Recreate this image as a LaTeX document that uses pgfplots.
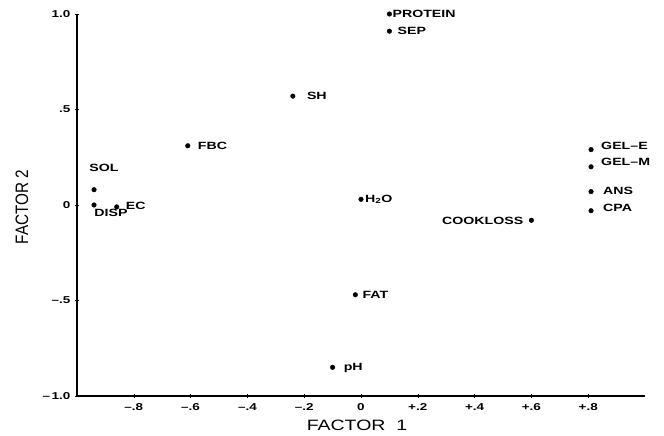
\documentclass[border=0pt]{standalone}
\usepackage{fontspec}
\setmainfont{Liberation Sans}
\usepackage{pgfplots}
\pgfplotsset{compat=1.18}
\newfontfamily\lab{Liberation Sans}[FakeStretch=1.35]
\newfontfamily\axlab{Liberation Sans}[FakeStretch=1.3]
\newfontfamily\aylab{Liberation Sans}[FakeStretch=0.85]

\pgfplotsset{pts/.style={only marks, mark=*, mark size=2.3pt, black,
  nodes near coords style={inner sep=0pt, font=\lab\bfseries\fontsize{10.5}{12}\selectfont, text=black}}}
% x, y, label, anchor, xshift, yshift
\newcommand{\pt}[6]{\addplot[pts, nodes near coords={#3},
  every node near coord/.append style={anchor=#4, xshift=#5pt, yshift=#6pt}] coordinates {(#1,#2)};}

\begin{document}
\begin{tikzpicture}
\useasboundingbox (0,0) rectangle (664pt,436pt);
\begin{axis}[
  at={(77pt,40pt)}, anchor=south west,
  scale only axis, width=568pt, height=382pt,
  xmin=-1, xmax=1, ymin=-1, ymax=1,
  axis lines=left,
  axis line style={-, line width=1.2pt, black},
  tick align=center,
  major tick length=4pt,
  tick style={line width=0.6pt, black},
  xtick={-0.8,-0.6,-0.4,-0.2,0,0.2,0.4,0.6,0.8},
  xticklabels={–.8,–.6,–.4,–.2,0,+.2,+.4,+.6,+.8},
  ytick={-1,-0.5,0,0.5,1},
  yticklabels={–\,1.0,–.5,0,.5,1.0},
  xticklabel style={font=\lab\bfseries\fontsize{10}{11}\selectfont, yshift=-2pt},
  yticklabel style={font=\lab\bfseries\fontsize{10}{11}\selectfont, xshift=-1pt},
  xlabel={FACTOR\ \ 1},
  ylabel={FACTOR 2},
  xlabel style={at={(axis description cs:0.493,-0.076)}, anchor=center, font=\axlab\fontsize{15}{16}\selectfont},
  ylabel style={at={(axis description cs:-0.097,0.495)}, anchor=center, font=\aylab\fontsize{18}{19}\selectfont},
  clip=false,
]
\pt{0.10}{1.00}{PROTEIN}{west}{3}{0}
\pt{0.10}{0.91}{SEP}{west}{8}{0}
\pt{-0.24}{0.57}{SH}{west}{14}{0}
\pt{-0.61}{0.31}{FBC}{west}{10}{0}
\pt{-0.94}{0.08}{SOL}{center}{10}{22}
\pt{-0.94}{0.00}{DISP}{center}{17}{-8}
\pt{-0.86}{-0.01}{EC}{west}{9}{1.5}
\pt{0.00}{0.03}{H\textsubscript{2}O}{west}{4}{0}
\pt{0.81}{0.29}{GEL–E}{west}{10}{4}
\pt{0.81}{0.20}{GEL–M}{west}{10}{5}
\pt{0.81}{0.07}{ANS}{west}{12}{1}
\pt{0.81}{-0.03}{CPA}{west}{12}{3}
\pt{0.60}{-0.08}{COOKLOSS}{east}{-8}{-1}
\pt{-0.02}{-0.47}{FAT}{west}{7}{0}
\pt{-0.10}{-0.85}{pH}{west}{11}{-1}
\end{axis}
\end{tikzpicture}
\end{document}
